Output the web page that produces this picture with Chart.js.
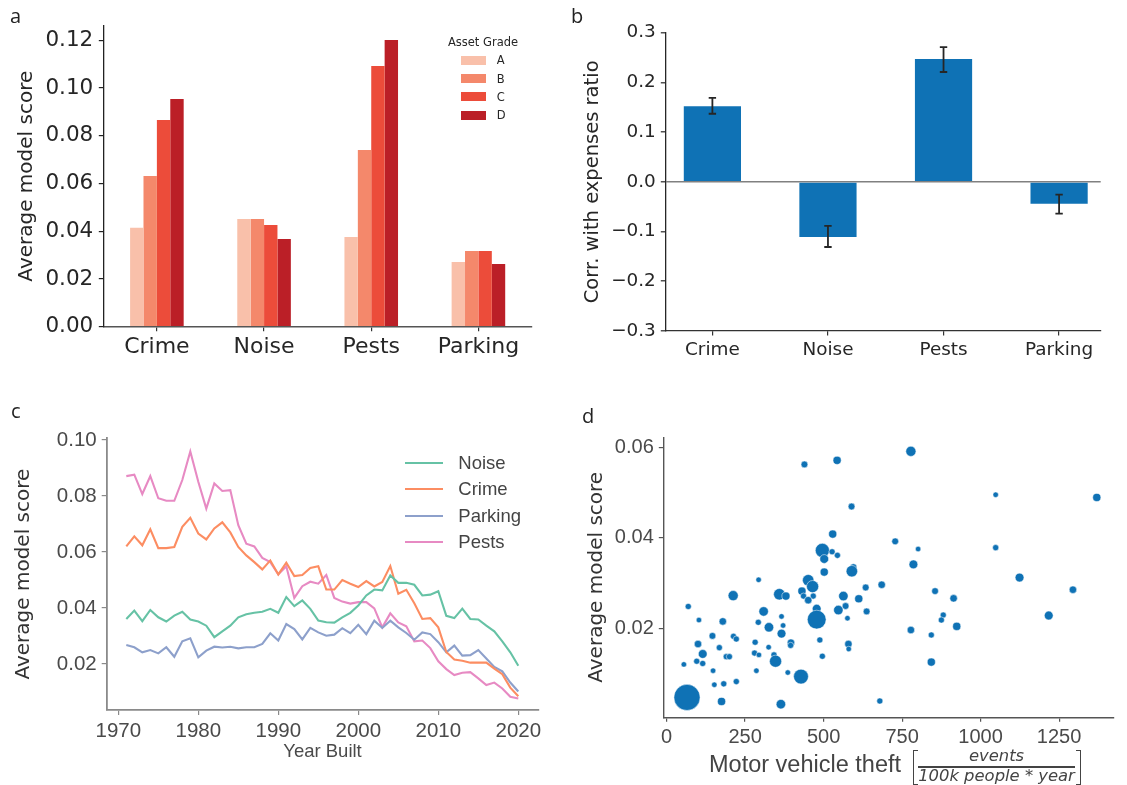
<!DOCTYPE html>
<html>
<head>
<meta charset="utf-8">
<script src="https://cdn.jsdelivr.net/npm/chart.js@4.4.1/dist/chart.umd.min.js"></script>
<style>
  body { margin: 0; background: #fff; width: 1127px; height: 785px; overflow: hidden; position: relative; }
  .panel { position: absolute; }
  .letter { position: absolute; font-family: "Open Sans"; font-size: 20px; line-height: 20px; color: #222; }
  .legA { position: absolute; font-family: "DejaVu Sans"; font-size: 11.5px; line-height: 12px; color: #262626; }
  .legC { position: absolute; font-family: "Liberation Sans"; font-size: 18.5px; line-height: 20px; color: #444; }
  .dlab { position: absolute; color: #444; white-space: nowrap; }
</style>
</head>
<body>
<div class="panel" style="left:0;top:0;width:560px;height:390px"><canvas id="chartA"></canvas></div>
<div class="panel" style="left:560px;top:0;width:567px;height:390px"><canvas id="chartB"></canvas></div>
<div class="panel" style="left:0;top:390px;width:560px;height:395px"><canvas id="chartC"></canvas></div>
<div class="panel" style="left:560px;top:390px;width:567px;height:395px"><canvas id="chartD"></canvas></div>

<div class="letter" style="left:10px;top:5.6px">a</div>
<div class="letter" style="left:571px;top:6px">b</div>
<div class="letter" style="left:11px;top:400.5px">c</div>
<div class="letter" style="left:582px;top:405.5px">d</div>

<div id="legendA"></div>
<div id="legendC"></div>

<!-- x label of panel d, with the fraction -->
<div class="dlab" style="left:709px;top:753.4px;font-family:'Liberation Sans';font-size:23.5px;line-height:23.5px">Motor vehicle theft</div>
<div class="dlab" style="left:913px;top:750px;width:4px;height:33px;border-left:1.5px solid #444;border-top:1.5px solid #444;border-bottom:1.5px solid #444"></div>
<div class="dlab" style="left:918px;top:747.8px;width:157px;text-align:center;font-family:'DejaVu Sans';font-style:italic;font-size:16.4px;line-height:16.4px">events</div>
<div class="dlab" style="left:918px;top:766px;width:157px;height:1.6px;background:#444"></div>
<div class="dlab" style="left:918px;top:767.8px;width:157px;text-align:center;font-family:'DejaVu Sans';font-style:italic;font-size:16.4px;line-height:16.4px">100k people * year</div>
<div class="dlab" style="left:1076px;top:750px;width:4px;height:33px;border-right:1.5px solid #444;border-top:1.5px solid #444;border-bottom:1.5px solid #444"></div>

<script>
// Panel a: average model score per complaint type and asset grade
const categories = ["Crime", "Noise", "Pests", "Parking"];
const grades = ["A", "B", "C", "D"];
const gradeA = [0.0415, 0.0451, 0.0376, 0.0271];
const gradeB = [0.0631, 0.0451, 0.0740, 0.0317];
const gradeC = [0.0866, 0.0426, 0.1092, 0.0317];
const gradeD = [0.0954, 0.0367, 0.1201, 0.0263];
const aTicks = [0, 0.02, 0.04, 0.06, 0.08, 0.10, 0.12];

// Panel b: correlation with expenses ratio (+ error bars)
const corrValue = [0.152, -0.111, 0.247, -0.044];
const corrLow = [0.137, -0.131, 0.221, -0.064];
const corrHigh = [0.169, -0.0885, 0.271, -0.0255];
const bTicks = [-0.3, -0.2, -0.1, 0, 0.1, 0.2, 0.3];

// Panel c: average model score by year built
const years = [1971, 1972, 1973, 1974, 1975, 1976, 1977, 1978, 1979, 1980,
  1981, 1982, 1983, 1984, 1985, 1986, 1987, 1988, 1989, 1990,
  1991, 1992, 1993, 1994, 1995, 1996, 1997, 1998, 1999, 2000,
  2001, 2002, 2003, 2004, 2005, 2006, 2007, 2008, 2009, 2010,
  2011, 2012, 2013, 2014, 2015, 2016, 2017, 2018, 2019, 2020];
const noiseByYear = [0.0361, 0.0391, 0.0353, 0.0393, 0.0367, 0.0352, 0.0373, 0.0387, 0.0359, 0.0352,
  0.0337, 0.0296, 0.0317, 0.0337, 0.0367, 0.0378, 0.0383, 0.0387, 0.0397, 0.0383,
  0.0439, 0.0407, 0.0427, 0.0397, 0.0355, 0.0349, 0.0348, 0.0367, 0.0383, 0.0409,
  0.0445, 0.0466, 0.0463, 0.0516, 0.0490, 0.0490, 0.0483, 0.0445, 0.0448, 0.0460,
  0.0372, 0.0364, 0.0398, 0.0361, 0.0359, 0.0337, 0.0317, 0.0281, 0.0242, 0.0194];
const crimeByYear = [0.0620, 0.0656, 0.0624, 0.0681, 0.0614, 0.0614, 0.0618, 0.0690, 0.0722, 0.0666,
  0.0645, 0.0684, 0.0706, 0.0670, 0.0618, 0.0588, 0.0564, 0.0538, 0.0570, 0.0520,
  0.0562, 0.0514, 0.0518, 0.0543, 0.0549, 0.0466, 0.0466, 0.0500, 0.0487, 0.0475,
  0.0496, 0.0477, 0.0493, 0.0550, 0.0451, 0.0465, 0.0417, 0.0361, 0.0364, 0.0331,
  0.0243, 0.0216, 0.0212, 0.0205, 0.0205, 0.0205, 0.0184, 0.0164, 0.0116, 0.0085];
const parkingByYear = [0.0268, 0.0260, 0.0242, 0.0250, 0.0238, 0.0260, 0.0226, 0.0281, 0.0292, 0.0224,
  0.0248, 0.0262, 0.0259, 0.0262, 0.0256, 0.0260, 0.0260, 0.0272, 0.0310, 0.0284,
  0.0343, 0.0325, 0.0288, 0.0329, 0.0313, 0.0301, 0.0305, 0.0328, 0.0310, 0.0340,
  0.0307, 0.0355, 0.0329, 0.0355, 0.0331, 0.0311, 0.0287, 0.0313, 0.0307, 0.0278,
  0.0242, 0.0266, 0.0230, 0.0232, 0.0250, 0.0220, 0.0190, 0.0174, 0.0134, 0.0102];
const pestsByYear = [0.0871, 0.0876, 0.0807, 0.0871, 0.0792, 0.0783, 0.0783, 0.0857, 0.0959, 0.0851,
  0.0755, 0.0845, 0.0818, 0.0821, 0.0696, 0.0630, 0.0620, 0.0579, 0.0564, 0.0520,
  0.0549, 0.0436, 0.0478, 0.0494, 0.0487, 0.0518, 0.0436, 0.0423, 0.0416, 0.0421,
  0.0421, 0.0399, 0.0331, 0.0381, 0.0349, 0.0335, 0.0281, 0.0284, 0.0257, 0.0210,
  0.0182, 0.0161, 0.0169, 0.0171, 0.0149, 0.0125, 0.0134, 0.0113, 0.0083, 0.0077];
const cXTicks = [1970, 1980, 1990, 2000, 2010, 2020];
const cYTicks = [0.02, 0.04, 0.06, 0.08, 0.10];

// Panel d: motor vehicle theft rate vs average model score, marker area ~ units
const dTheft = [65, 778, 439, 543, 1048, 1370, 589, 529, 728, 496,
  801, 1048, 527, 544, 502, 786, 595, 590, 502, 1124,
  293, 451, 465, 685, 634, 855, 1294, 212, 359, 380,
  431, 436, 467, 451, 563, 612, 914, 69, 478, 570,
  547, 637, 309, 478, 1217, 103, 179, 292, 366, 576,
  881, 875, 371, 326, 924, 778, 366, 146, 843, 213,
  222, 100, 282, 396, 395, 488, 579, 580, 168, 325,
  115, 280, 294, 342, 347, 190, 200, 96, 115, 496,
  55, 843, 148, 286, 386, 428, 152, 182, 222, 175,
  364, 679];
const dScore = [0.0047, 0.0591, 0.0562, 0.0571, 0.0495, 0.0489, 0.0469, 0.0408, 0.0392, 0.0372,
  0.0375, 0.0378, 0.0369, 0.0361, 0.0353, 0.0341, 0.0335, 0.0326, 0.0324, 0.0312,
  0.0307, 0.0306, 0.0292, 0.0296, 0.0290, 0.0282, 0.0285, 0.0272, 0.0275, 0.0271,
  0.0282, 0.0271, 0.0271, 0.0262, 0.0271, 0.0265, 0.0266, 0.0248, 0.0243, 0.0249,
  0.0240, 0.0237, 0.0237, 0.0219, 0.0228, 0.0218, 0.0215, 0.0213, 0.0226, 0.0222,
  0.0229, 0.0218, 0.0206, 0.0202, 0.0204, 0.0196, 0.0188, 0.0183, 0.0185, 0.0182,
  0.0176, 0.0165, 0.0169, 0.0168, 0.0162, 0.0174, 0.0165, 0.0154, 0.0157, 0.0158,
  0.0143, 0.0145, 0.0141, 0.0141, 0.0127, 0.0137, 0.0137, 0.0127, 0.0122, 0.0138,
  0.0120, 0.0125, 0.0106, 0.0106, 0.0102, 0.0093, 0.0075, 0.0077, 0.0082, 0.0038,
  0.0032, 0.0039];
const dUnits = [1444, 196, 81, 121, 49, 121, 81, 121, 81, 400,
  49, 64, 64, 64, 144, 144, 81, 256, 121, 144,
  49, 256, 289, 100, 81, 81, 100, 196, 256, 121,
  121, 64, 64, 100, 169, 121, 100, 64, 144, 81,
  169, 81, 169, 729, 144, 49, 100, 64, 49, 49,
  64, 64, 49, 169, 121, 100, 144, 81, 64, 64,
  64, 100, 64, 100, 64, 64, 100, 49, 64, 49,
  144, 64, 49, 64, 289, 64, 64, 64, 64, 64,
  49, 121, 49, 49, 49, 441, 49, 64, 64, 121,
  169, 64];
const dXTicks = [0, 250, 500, 750, 1000, 1250];
const dYTicks = [0.02, 0.04, 0.06];

const gradeColors = ["#f9c0aa", "#f4886b", "#ec4c3a", "#bb1f27"];
const blue = "#0f72b5";
const lineColors = { Noise: "#66c2a5", Crime: "#fc8d62", Parking: "#8da0cb", Pests: "#e78ac3" };

Chart.defaults.animation = false;
Chart.defaults.maintainAspectRatio = false;
Chart.defaults.plugins.legend.display = false;
Chart.defaults.plugins.tooltip.enabled = false;

// tick marks only, no grid lines in the plot area
function tickGrid(color, len) {
    return { display: true, drawOnChartArea: false, offset: false, tickLength: len, color: color, lineWidth: 1.2 };
}

// ---------- a ----------
const chartA = new Chart(document.getElementById("chartA"), {
    type: "bar",
    data: {
        labels: categories,
        datasets: [gradeA, gradeB, gradeC, gradeD].map((vals, i) => ({
            label: grades[i],
            data: vals,
            backgroundColor: gradeColors[i],
            categoryPercentage: 0.5,
            barPercentage: 1
        }))
    },
    options: {
        layout: { padding: { top: 25.7, right: 28, left: 0, bottom: 0 } },
        scales: {
            x: {
                grid: tickGrid("#333", 4.5),
                border: { color: "#555", width: 1.5 },
                ticks: { font: { family: "DejaVu Sans", size: 22 }, color: "#262626", padding: 3, maxRotation: 0, autoSkip: false },
                afterFit: s => { s.height = 63.3; }
            },
            y: {
                min: 0, max: 0.1261,
                afterBuildTicks: s => { s.ticks = aTicks.map(v => ({ value: v })); },
                grid: tickGrid("#222", 4.5),
                border: { color: "#222", width: 1.3 },
                ticks: { callback: v => v.toFixed(2), font: { family: "DejaVu Sans", size: 21.5 }, color: "#262626", padding: 5.5 },
                title: { display: true, text: "Average model score", font: { family: "DejaVu Sans", size: 20 }, color: "#262626", padding: { top: 15, bottom: 0 } },
                afterFit: s => { s.width = 103.3; }
            }
        }
    }
});

// ---------- b ----------
const errorBars = {
    id: "errorBars",
    afterDatasetsDraw(chart) {
        const ctx = chart.ctx;
        const meta = chart.getDatasetMeta(0);
        const y = chart.scales.y;
        ctx.save();
        ctx.strokeStyle = "#262626";
        ctx.lineWidth = 1.8;
        meta.data.forEach((bar, i) => {
            const top = y.getPixelForValue(corrHigh[i]);
            const bottom = y.getPixelForValue(corrLow[i]);
            ctx.beginPath();
            ctx.moveTo(bar.x, top); ctx.lineTo(bar.x, bottom);
            ctx.moveTo(bar.x - 3.7, top); ctx.lineTo(bar.x + 3.7, top);
            ctx.moveTo(bar.x - 3.7, bottom); ctx.lineTo(bar.x + 3.7, bottom);
            ctx.stroke();
        });
        ctx.restore();
    }
};

const chartB = new Chart(document.getElementById("chartB"), {
    type: "bar",
    data: {
        datasets: [{
            label: "Corr. with expenses ratio",
            data: corrValue.map((v, i) => ({ x: i, y: v })),
            backgroundColor: blue,
            categoryPercentage: 1,
            barPercentage: 0.495
        }]
    },
    options: {
        layout: { padding: { top: 32.7, right: 26.3, left: 0, bottom: 0 } },
        scales: {
            x: {
                type: "linear", offset: false,
                min: -0.4075, max: 3.36,
                afterBuildTicks: s => { s.ticks = categories.map((c, i) => ({ value: i })); },
                grid: tickGrid("#333", 4.5),
                border: { color: "#333", width: 1.3 },
                ticks: { callback: v => categories[v], font: { family: "DejaVu Sans", size: 18.4 }, color: "#262626", padding: 4, maxRotation: 0, autoSkip: false },
                afterFit: s => { s.height = 59; }
            },
            y: {
                min: -0.3, max: 0.3,
                afterBuildTicks: s => { s.ticks = bTicks.map(v => ({ value: v })); },
                grid: {
                    display: true, drawOnChartArea: true, drawTicks: true, tickLength: 4.5,
                    color: c => (c.tick && Math.abs(c.tick.value) < 1e-9) ? "#808080" : "rgba(0,0,0,0)",
                    lineWidth: 1.6, tickColor: "#262626", tickWidth: 1.2
                },
                border: { color: "#262626", width: 1.3 },
                ticks: {
                    callback: v => (v < -1e-9 ? "\u2212" + Math.abs(v).toFixed(1) : Math.abs(v).toFixed(1)),
                    font: { family: "DejaVu Sans", size: 18.4 }, color: "#262626", padding: 5
                },
                title: { display: true, text: "Corr. with expenses ratio", font: { family: "DejaVu Sans", size: 19.5 }, color: "#262626", padding: { top: 21, bottom: 0 } },
                afterFit: s => { s.width = 105.3; }
            }
        }
    },
    plugins: [errorBars]
});

// ---------- c ----------
const seriesC = [
    ["Noise", noiseByYear],
    ["Crime", crimeByYear],
    ["Parking", parkingByYear],
    ["Pests", pestsByYear]
];
const chartC = new Chart(document.getElementById("chartC"), {
    type: "line",
    data: {
        datasets: seriesC.map(([name, vals]) => ({
            label: name,
            data: years.map((yr, i) => ({ x: yr, y: vals[i] })),
            borderColor: lineColors[name],
            borderWidth: 2.1,
            pointRadius: 0,
            tension: 0
        }))
    },
    options: {
        layout: { padding: { top: 48.3, right: 21.7, left: 0, bottom: 0 } },
        scales: {
            x: {
                type: "linear", min: 1968.55, max: 2022.5,
                afterBuildTicks: s => { s.ticks = cXTicks.map(v => ({ value: v })); },
                grid: tickGrid("#8a8a8a", 5),
                border: { color: "#8a8a8a", width: 1.8 },
                ticks: { callback: v => String(v), font: { family: "Liberation Sans", size: 20.5 }, color: "#4a4a4a", padding: 4, maxRotation: 0 },
                title: { display: true, text: "Year Built", font: { family: "Liberation Sans", size: 18.5 }, color: "#4a4a4a", padding: { top: 0, bottom: 22.2 } },
                afterFit: s => { s.height = 75; }
            },
            y: {
                min: 0.0036, max: 0.1006,
                afterBuildTicks: s => { s.ticks = cYTicks.map(v => ({ value: v })); },
                grid: tickGrid("#8a8a8a", 5),
                border: { color: "#8a8a8a", width: 1.8 },
                ticks: { callback: v => v.toFixed(2), font: { family: "Liberation Sans", size: 20.5 }, color: "#4a4a4a", padding: 5 },
                title: { display: true, text: "Average model score", font: { family: "DejaVu Sans", size: 20 }, color: "#333", padding: { top: 12, bottom: 0 } },
                afterFit: s => { s.width = 106.7; }
            }
        }
    }
});

// ---------- d ----------
const chartD = new Chart(document.getElementById("chartD"), {
    type: "scatter",
    data: {
        datasets: [{
            label: "Neighbourhoods",
            data: dTheft.map((x, i) => ({ x: x, y: dScore[i] })),
            backgroundColor: blue,
            borderColor: "#ffffff",
            borderWidth: 0.5,
            pointRadius: c => Math.sqrt(dUnits[c.dataIndex]) / 3 + 0.4
        }]
    },
    options: {
        layout: { padding: { top: 47.3, right: 0, left: 0, bottom: 0 } },
        scales: {
            x: {
                type: "linear", min: -10.5, max: 1423,
                afterBuildTicks: s => { s.ticks = dXTicks.map(v => ({ value: v })); },
                grid: tickGrid("#555", 4.5),
                border: { color: "#555", width: 1.4 },
                ticks: { callback: v => String(v), font: { family: "Liberation Sans", size: 20 }, color: "#4a4a4a", padding: 4, maxRotation: 0 },
                afterFit: s => { s.height = 67.7; }
            },
            y: {
                min: 0.0003, max: 0.0622,
                afterBuildTicks: s => { s.ticks = dYTicks.map(v => ({ value: v })); },
                grid: tickGrid("#555", 4.5),
                border: { color: "#555", width: 1.4 },
                ticks: { callback: v => v.toFixed(2), font: { family: "Liberation Sans", size: 20 }, color: "#4a4a4a", padding: 5 },
                title: { display: true, text: "Average model score", font: { family: "DejaVu Sans", size: 20 }, color: "#333", padding: { top: 25, bottom: 0 } },
                afterFit: s => { s.width = 103.3; }
            }
        }
    }
});

// ---------- HTML legends built from the chart datasets ----------
const legA = document.getElementById("legendA");
legA.innerHTML = '<div class="legA" style="left:440px;top:35.7px;width:86px;text-align:center">Asset Grade</div>';
const legARows = [60.3, 78.5, 96.7, 115];
chartA.data.datasets.forEach((ds, i) => {
    const y = legARows[i];
    legA.innerHTML += '<div style="position:absolute;left:461px;top:' + (y - 4.5) + 'px;width:25px;height:9px;background:' + ds.backgroundColor + '"></div>' +
        '<div class="legA" style="left:496.7px;top:' + (y - 6) + 'px">' + ds.label + '</div>';
});

const legC = document.getElementById("legendC");
const legCRows = [462.7, 489.3, 516, 542.3];
chartC.data.datasets.forEach((ds, i) => {
    const y = legCRows[i];
    legC.innerHTML += '<div style="position:absolute;left:405px;top:' + (y - 1.05) + 'px;width:38.3px;height:2.1px;background:' + ds.borderColor + '"></div>' +
        '<div class="legC" style="left:458.3px;top:' + (y - 10) + 'px">' + ds.label + '</div>';
});
</script>
</body>
</html>
